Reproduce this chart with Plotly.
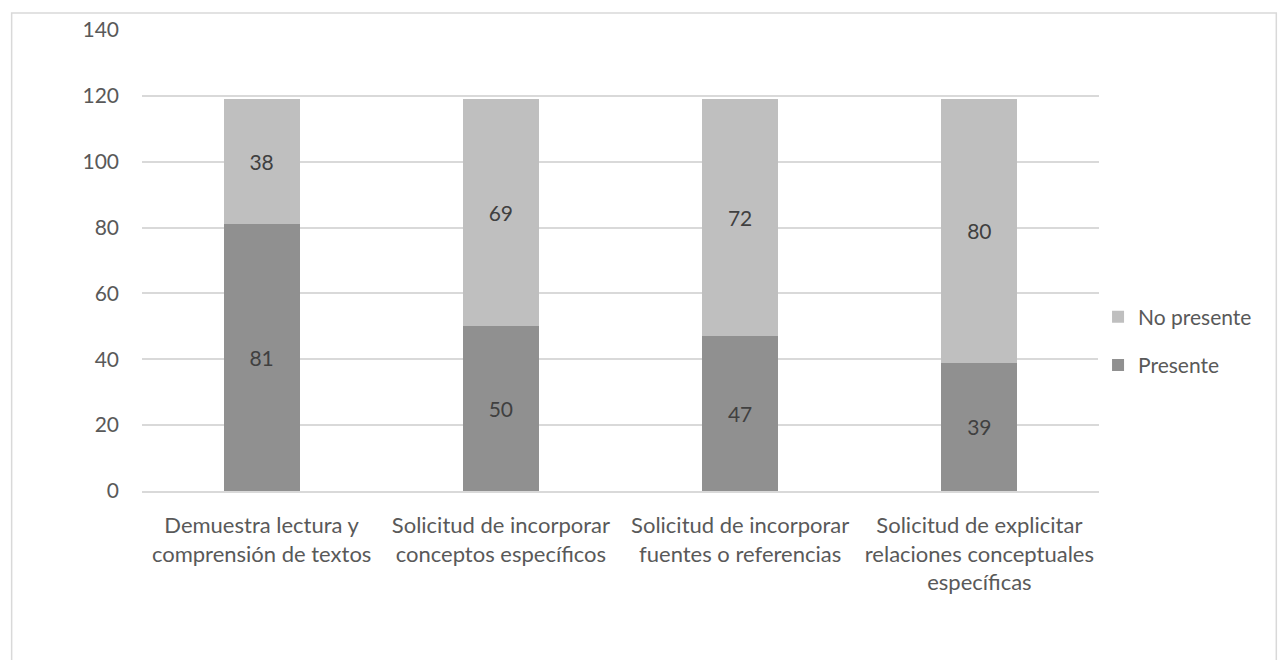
import plotly.graph_objects as go

categories = [
    "Demuestra lectura y<br>comprensión de textos",
    "Solicitud de incorporar<br>conceptos específicos",
    "Solicitud de incorporar<br>fuentes o referencias",
    "Solicitud de explicitar<br>relaciones conceptuales<br>específicas",
]
presente = [81, 50, 47, 39]
no_presente = [38, 69, 72, 80]
y_ticks = [0, 20, 40, 60, 80, 100, 120, 140]

FONT = "Lato"
FS = 21
W, H = 1278, 660
L, R, T, B = 141.5, 178.5, 30, 169
pw, ph = W - L - R, H - T - B

fig = go.Figure()
fig.add_trace(go.Bar(
    name="Presente", x=categories, y=presente, legendgroup="p", legendrank=2,
    marker=dict(color="#909090", line=dict(width=0)),
    text=presente, textposition="inside", insidetextanchor="middle",
    textfont=dict(color="#404040", size=FS, family=FONT),
))
fig.add_trace(go.Bar(
    name="No presente", x=categories, y=no_presente, legendgroup="n", legendrank=1,
    marker=dict(color="#bfbfbf", line=dict(width=0)),
    text=no_presente, textposition="inside", insidetextanchor="middle",
    textfont=dict(color="#404040", size=FS, family=FONT),
))

# outer chart border
fig.add_shape(type="rect", xref="paper", yref="paper",
              x0=(11 - L) / pw, x1=(1277 - L) / pw,
              y0=-0.6, y1=(H - B - 13) / ph,
              line=dict(color="#d9d9d9", width=1.5), fillcolor="rgba(0,0,0,0)",
              layer="below")

fig.update_layout(
    width=W, height=H,
    barmode="stack", bargap=0.683,
    margin=dict(l=L, r=R, t=T, b=B),
    paper_bgcolor="white", plot_bgcolor="white",
    font=dict(family=FONT, color="#595959", size=FS),
    uniformtext=dict(mode=False),
    legend=dict(
        x=0.999, y=(H - B - 341) / ph, xanchor="left", yanchor="middle",
        traceorder="grouped", font=dict(size=FS, color="#595959"),
        itemwidth=30, tracegroupgap=18,
    ),
    xaxis=dict(showgrid=False, showline=True, linecolor="#d9d9d9", linewidth=1.5,
               ticks="", ticklabelstandoff=14,
               tickfont=dict(size=22, color="#595959")),
    yaxis=dict(range=[0, 140], tickvals=y_ticks, showgrid=True,
               gridcolor="#d9d9d9", gridwidth=1.5, zeroline=False,
               showline=False, ticks="", ticklabelstandoff=22,
               tickfont=dict(size=FS, color="#595959")),
)

fig.write_html("out.html")
